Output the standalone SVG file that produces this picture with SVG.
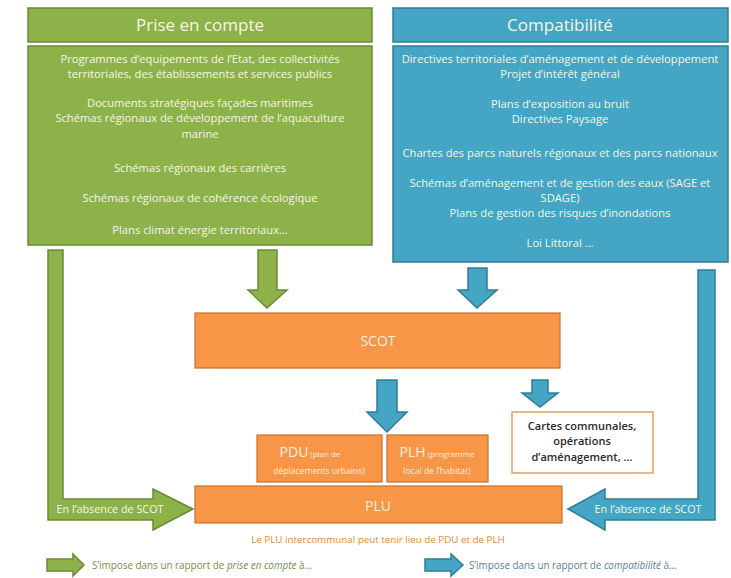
<svg xmlns="http://www.w3.org/2000/svg" width="731" height="578" viewBox="0 0 731 578">
<style>
.g{fill:#8db24a;stroke:#6b8a34;stroke-width:1.5}
.b{fill:#45a5c4;stroke:#2f7d97;stroke-width:1.5}
.o{fill:#f79646;stroke:#c8702e;stroke-width:1.2}
.w{fill:#ffffff;stroke:#e0a060;stroke-width:1.5}
text{font-family:"Open Sans","Liberation Sans",sans-serif;text-anchor:middle}
.t{fill:#f4f6e2;font-size:11.2px}
.h{fill:#f6f7e6;font-size:17px}
.m{fill:#fbefe2;font-size:14px}
.s{fill:#fbefe2;font-size:8.6px}
.d{fill:#2a2a2a;font-size:11px;font-weight:600}
.l{fill:#f6f7e6;font-size:10.8px}
.n{fill:#d98a3e;font-size:9.8px}
.lg{font-size:9.9px;text-anchor:start}
</style>
<g id="prise-header"><rect class="g" x="28" y="8" width="344" height="34"/><text class="h" x="200" y="31">Prise en compte</text></g>
<g id="prise-body"><rect class="g" x="28" y="46" width="344" height="199"/>
<text class="t" x="200" y="63">Programmes d’equipements de l’Etat, des collectivités</text>
<text class="t" x="200" y="78">territoriales, des établissements et services publics</text>
<text class="t" x="200" y="107">Documents stratégiques façades maritimes</text>
<text class="t" x="200" y="122">Schémas régionaux de développement de l’aquaculture</text>
<text class="t" x="200" y="138">marine</text>
<text class="t" x="200" y="172">Schémas régionaux des carrières</text>
<text class="t" x="200" y="202">Schémas régionaux de cohérence écologique</text>
<text class="t" x="200" y="234">Plans climat énergie territoriaux…</text>
</g>
<g id="compat-header"><rect class="b" x="393" y="8" width="335" height="34"/><text class="h" x="560" y="31">Compatibilité</text></g>
<g id="compat-body"><rect class="b" x="393" y="46" width="335" height="216"/>
<text class="t" x="560" y="63">Directives territoriales d’aménagement et de développement</text>
<text class="t" x="560" y="78">Projet d’intérêt général</text>
<text class="t" x="560" y="108">Plans d’exposition au bruit</text>
<text class="t" x="560" y="123">Directives Paysage</text>
<text class="t" x="560" y="157">Chartes des parcs naturels régionaux et des parcs nationaux</text>
<text class="t" x="560" y="187">Schémas d’aménagement et de gestion des eaux (SAGE et</text>
<text class="t" x="560" y="202">SDAGE)</text>
<text class="t" x="560" y="217">Plans de gestion des risques d’inondations</text>
<text class="t" x="560" y="247">Loi Littoral …</text>
</g>
<g id="scot"><rect class="o" x="195" y="313" width="365" height="55"/><text class="m" x="378" y="346">SCOT</text></g>
<g id="pdu"><rect class="o" x="257" y="435" width="125" height="47"/><text x="310" y="457"><tspan style="fill:#fbefe2;font-size:14px">PDU</tspan><tspan style="fill:#fbefe2;font-size:8px" dx="2">(plan de</tspan></text><text class="s" x="319" y="474">déplacements urbains)</text></g>
<g id="plh"><rect class="o" x="387" y="435" width="101" height="47"/><text x="437" y="457"><tspan style="fill:#fbefe2;font-size:14px">PLH</tspan><tspan style="fill:#fbefe2;font-size:8px" dx="2">(programme</tspan></text><text class="s" x="437" y="474">local de l’habitat)</text></g>
<g id="plu"><rect class="o" x="195" y="486" width="367" height="37"/><text class="m" x="378" y="511">PLU</text></g>
<g id="cartes"><rect class="w" x="512" y="412" width="141" height="61"/>
<text class="d" x="582" y="430">Cartes communales,</text>
<text class="d" x="582" y="445">opérations</text>
<text class="d" x="582" y="461">d’aménagement, …</text></g>
<g id="connectors">
<polygon class="g" points="48,250 63,250 63,499 153,499 153,489 193,509 153,530 153,520 48,520"/>
<polygon class="b" points="715,270 698,270 698,499 605,499 605,489 568,509 605,530 605,520 715,520"/>
<polygon class="g" points="258,250 277,250 277,290 287,290 267,308 248,290 258,290"/>
<polygon class="b" points="468,268 487,268 487,290 497,290 477,308 458,290 468,290"/>
<polygon class="b" points="377,380 397,380 397,412 407,412 387,432 367,412 377,412"/>
<polygon class="b" points="532,380 548,380 548,393 558,393 540,407 522,393 532,393"/>
<text class="l" x="110" y="513">En l’absence de SCOT</text>
<text class="l" x="648" y="513">En l’absence de SCOT</text>
</g>
<text class="n" x="378" y="543">Le PLU intercommunal peut tenir lieu de PDU et de PLH</text>
<g id="legend">
<polygon class="g" points="47,559 73,559 73,554 84,565 73,576 73,571 47,571"/>
<text class="lg" x="92" y="569" style="fill:#7a8a50">S’impose dans un rapport de <tspan font-style="italic">prise en compte</tspan> à…</text>
<polygon class="b" points="425,559 451,559 451,554 463,565 451,576 451,571 425,571"/>
<text class="lg" x="469" y="569" style="fill:#5a8090">S’impose dans un rapport de <tspan font-style="italic">compatibilité</tspan> à…</text>
</g>
</svg>
